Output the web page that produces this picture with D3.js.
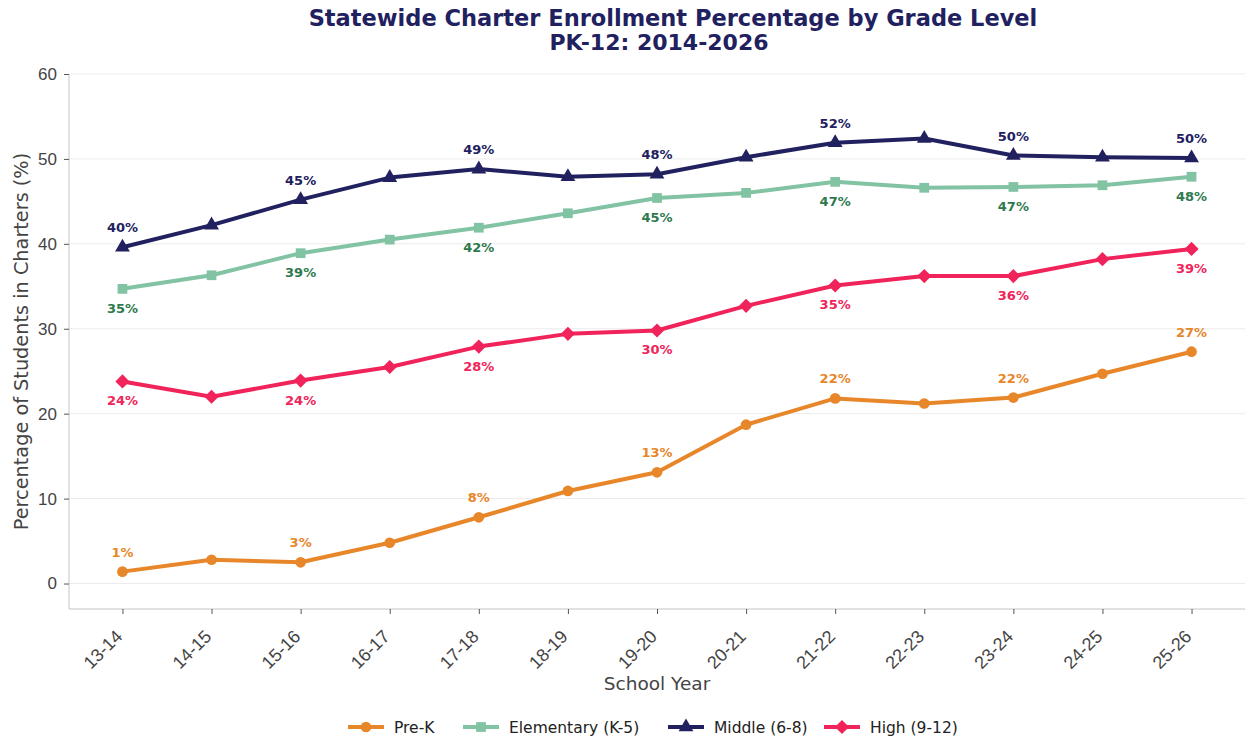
<!DOCTYPE html>
<html>
<head>
<meta charset="utf-8">
<script src="https://cdn.jsdelivr.net/npm/d3@7"></script>
<style>
  body { margin: 0; background: #fff; }
  svg { font-family: "DejaVu Sans", sans-serif; }
</style>
</head>
<body>
<svg id="chart" width="1246" height="738"></svg>
<script>
var years = ["13-14", "14-15", "15-16", "16-17", "17-18", "18-19", "19-20",
             "20-21", "21-22", "22-23", "23-24", "24-25", "25-26"];
var preK = [1.4, 2.8, 2.5, 4.8, 7.8, 10.9, 13.1, 18.7, 21.8, 21.2, 21.9, 24.7, 27.3];
var elementary = [34.7, 36.3, 38.9, 40.5, 41.9, 43.6, 45.4, 46.0, 47.3, 46.6, 46.7, 46.9, 47.9];
var middle = [39.6, 42.2, 45.2, 47.8, 48.8, 47.9, 48.2, 50.2, 51.9, 52.4, 50.4, 50.2, 50.1];
var high = [23.8, 22.0, 23.9, 25.5, 27.9, 29.4, 29.8, 32.7, 35.1, 36.2, 36.2, 38.2, 39.4];
var yTicks = [0, 10, 20, 30, 40, 50, 60];

var series = [
    { name: "Pre-K", values: preK, color: "#e8862a", labelColor: "#e8862a", symbol: d3.symbolCircle, size: 90, rot: 0, labelAbove: true },
    { name: "Elementary (K-5)", values: elementary, color: "#82c3a4", labelColor: "#2e7a4e", symbol: d3.symbolSquare, size: 95, rot: 0, labelAbove: false },
    { name: "Middle (6-8)", values: middle, color: "#22215f", labelColor: "#22215f", symbol: d3.symbolTriangle, size: 95, rot: 0, labelAbove: true },
    { name: "High (9-12)", values: high, color: "#f0245a", labelColor: "#f0245a", symbol: d3.symbolSquare, size: 100, rot: 45, labelAbove: false }
];

var svg = d3.select("#chart");
var mLeft = 69, mRight = 1245, mTop = 74, mBottom = 609;

var x = d3.scaleLinear().domain([-0.6, 12.6]).range([mLeft, mRight]);
var y = d3.scaleLinear().domain([-3, 60]).range([mBottom, mTop]);

// grid
svg.append("g").selectAll("line")
    .data(yTicks)
    .enter().append("line")
    .attr("x1", mLeft).attr("x2", mRight)
    .attr("y1", function(d) { return y(d); })
    .attr("y2", function(d) { return y(d); })
    .attr("stroke", "#ebebeb")
    .attr("stroke-width", 1);

// y axis
var yAxis = svg.append("g")
    .attr("transform", "translate(" + mLeft + ",0)")
    .call(d3.axisLeft(y).tickValues(yTicks).tickSize(5).tickPadding(7));
yAxis.select(".domain").attr("stroke", "#c4c4c4").attr("d", "M0," + mBottom + "V" + mTop);
yAxis.selectAll(".tick line").attr("stroke", "#555");
yAxis.selectAll("text").attr("font-size", 17).attr("fill", "#444");

// x axis
var xAxis = svg.append("g")
    .attr("transform", "translate(0," + mBottom + ")")
    .call(d3.axisBottom(x).tickValues(d3.range(years.length))
        .tickFormat(function(i) { return years[i]; }).tickSize(5));
xAxis.select(".domain").attr("stroke", "#c4c4c4").attr("d", "M" + mLeft + ",0H" + mRight);
xAxis.selectAll(".tick line").attr("stroke", "#555");
xAxis.selectAll("text")
    .attr("font-size", 18).attr("fill", "#444")
    .attr("text-anchor", "end")
    .attr("x", 0).attr("y", 0)
    .attr("dy", "0.75em")
    .attr("transform", "translate(-9,19) rotate(-45)");

// axis titles
svg.append("text")
    .attr("x", (mLeft + mRight) / 2).attr("y", 690)
    .attr("text-anchor", "middle").attr("font-size", 18.5).attr("fill", "#444")
    .text("School Year");
svg.append("text")
    .attr("transform", "translate(28," + ((mTop + mBottom) / 2) + ") rotate(-90)")
    .attr("text-anchor", "middle").attr("font-size", 19.3).attr("fill", "#444")
    .text("Percentage of Students in Charters (%)");

// title
svg.append("text")
    .attr("x", 673).attr("y", 26)
    .attr("text-anchor", "middle").attr("font-size", 22.5).attr("font-weight", "bold").attr("fill", "#22215f")
    .text("Statewide Charter Enrollment Percentage by Grade Level");
svg.append("text")
    .attr("x", 659).attr("y", 50)
    .attr("text-anchor", "middle").attr("font-size", 22).attr("font-weight", "bold").attr("fill", "#22215f")
    .text("PK-12: 2014-2026");

var line = d3.line()
    .x(function(d, i) { return x(i); })
    .y(function(d) { return y(d); });

series.forEach(function(s) {
    var g = svg.append("g");
    g.append("path")
        .datum(s.values)
        .attr("d", line)
        .attr("fill", "none")
        .attr("stroke", s.color)
        .attr("stroke-width", 4)
        .attr("stroke-linejoin", "round");
    g.selectAll(".pt")
        .data(s.values)
        .enter().append("path")
        .attr("d", d3.symbol().type(s.symbol).size(s.size))
        .attr("transform", function(d, i) { return "translate(" + x(i) + "," + y(d) + ") rotate(" + s.rot + ")"; })
        .attr("fill", s.color);
    g.selectAll(".lbl")
        .data(s.values.map(function(v, i) { return { v: v, i: i }; }).filter(function(d) { return d.i % 2 === 0; }))
        .enter().append("text")
        .attr("x", function(d) { return x(d.i); })
        .attr("y", function(d) { return y(d.v) + (s.labelAbove ? -15 : 24); })
        .attr("text-anchor", "middle")
        .attr("font-size", 13).attr("font-weight", "bold")
        .attr("fill", s.labelColor)
        .text(function(d) { return Math.round(d.v) + "%"; });
});

// legend
var legendX = [348, 463, 668, 824];
var legend = svg.append("g");
series.forEach(function(s, i) {
    var lg = legend.append("g").attr("transform", "translate(" + legendX[i] + ",727)");
    lg.append("line").attr("x1", 0).attr("x2", 36).attr("stroke", s.color).attr("stroke-width", 4);
    lg.append("path").attr("d", d3.symbol().type(s.symbol).size(s.size))
        .attr("transform", "translate(18,0) rotate(" + s.rot + ")").attr("fill", s.color);
    lg.append("text").attr("x", 46).attr("y", 5.5).attr("font-size", 15.5).attr("fill", "#222")
        .text(s.name);
});
</script>
</body>
</html>
